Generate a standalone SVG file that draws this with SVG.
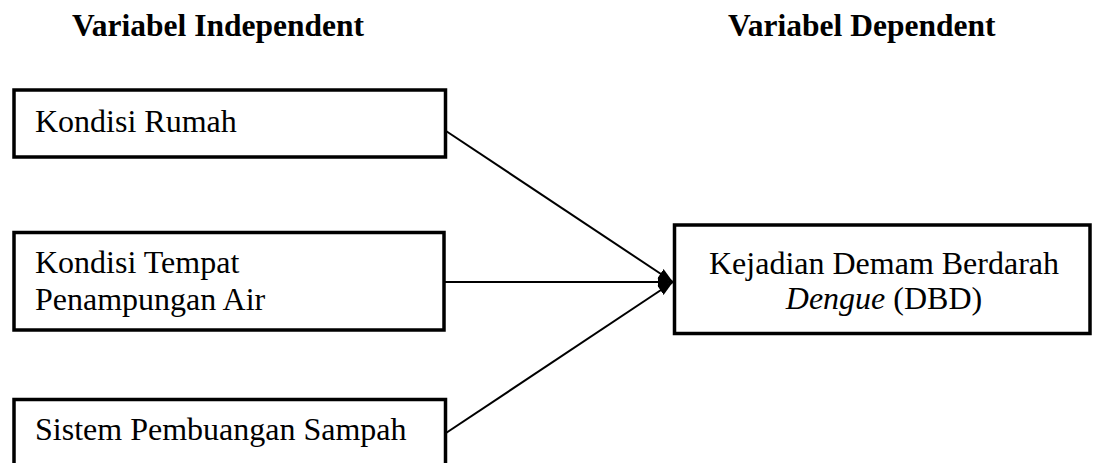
<svg xmlns="http://www.w3.org/2000/svg" width="1093" height="463" viewBox="0 0 1093 463">
  <style>
    .box { fill: #fff; stroke: #000; stroke-width: 3.5; }
    .t { font-family: "Liberation Serif", "Times New Roman", serif; font-size: 32px; fill: #000; }
    .h { font-family: "Liberation Serif", "Times New Roman", serif; font-size: 31.5px; font-weight: bold; fill: #000; }
    .conn { stroke: #000; stroke-width: 2; fill: none; marker-end: url(#arrow); }
  </style>
  <defs>
    <marker id="arrow" markerUnits="userSpaceOnUse" markerWidth="15" markerHeight="12" refX="15" refY="6" orient="auto">
      <path d="M0,0.5 L15,6 L0,11.5 Z" fill="#000"/>
    </marker>
  </defs>
  <rect width="1093" height="463" fill="#fff"/>
  <g id="headers">
    <text class="h" x="72" y="36">Variabel Independent</text>
    <text class="h" x="728" y="36">Variabel Dependent</text>
  </g>
  <g id="connectors">
    <line class="conn" x1="446" y1="131" x2="673" y2="282"/>
    <line class="conn" x1="445" y1="282" x2="673" y2="282"/>
    <line class="conn" x1="446" y1="433" x2="673" y2="282"/>
  </g>
  <g id="node-rumah">
    <rect class="box" x="14" y="90" width="431.5" height="67"/>
    <text class="t" x="35" y="132">Kondisi Rumah</text>
  </g>
  <g id="node-tempat">
    <rect class="box" x="14" y="232.5" width="430" height="97.5"/>
    <text class="t" x="35" y="273">Kondisi Tempat</text>
    <text class="t" x="35" y="310">Penampungan Air</text>
  </g>
  <g id="node-sampah">
    <rect class="box" x="14" y="399.5" width="431.5" height="80"/>
    <text class="t" x="35" y="440">Sistem Pembuangan Sampah</text>
  </g>
  <g id="node-dbd">
    <rect class="box" x="674.5" y="225" width="415.5" height="108.5"/>
    <text class="t" x="884" y="274" text-anchor="middle">Kejadian Demam Berdarah</text>
    <text class="t" x="884" y="309" text-anchor="middle"><tspan font-style="italic">Dengue</tspan> (DBD)</text>
  </g>
</svg>
